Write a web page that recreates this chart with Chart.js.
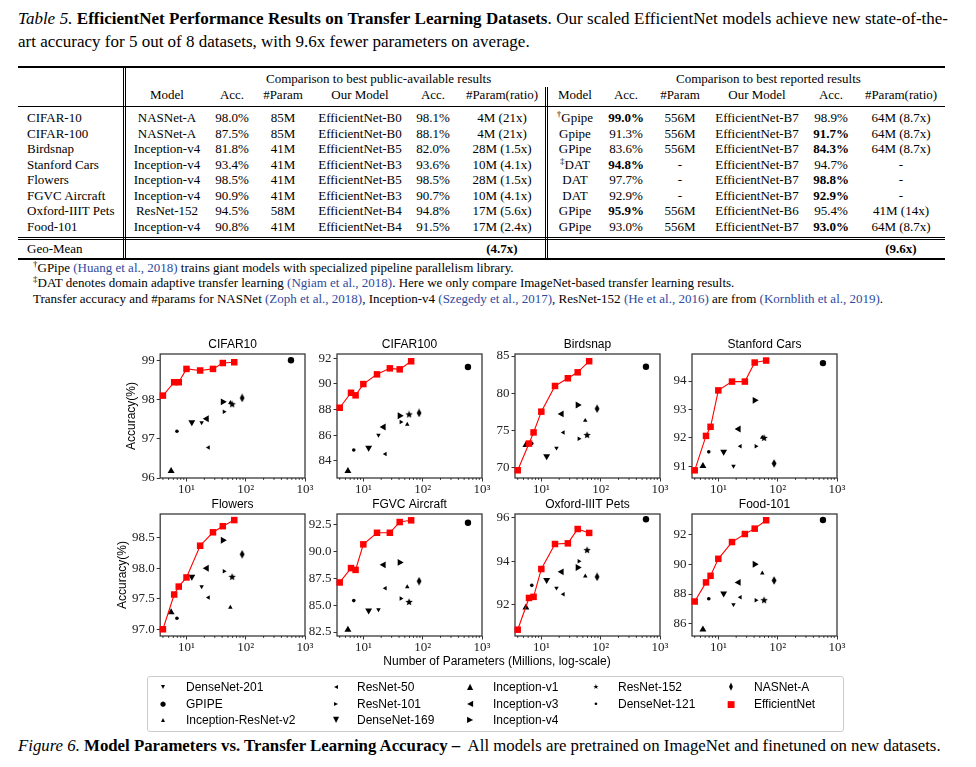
<!DOCTYPE html>
<html>
<head>
<meta charset="utf-8">
<script src="https://cdn.jsdelivr.net/npm/chart.js@4.4.0/dist/chart.umd.min.js"></script>
<style>
body{margin:0;background:#fff;}
#page{position:relative;width:976px;height:767px;overflow:hidden;font-family:"Liberation Serif",serif;color:#000;}
.abs{position:absolute;white-space:nowrap;}
.cap{font-size:17px;line-height:18px;}
.t{position:absolute;font-size:13px;line-height:16px;white-space:nowrap;}
.rule{position:absolute;left:18px;width:927px;background:#000;}
.vb{position:absolute;width:1px;background:#000;}
.fn{font-size:13px;line-height:15px;}
.cite{color:#2e4a9e;}
.sup{font-size:9px;position:relative;top:-5px;}
canvas{position:absolute;}
.sans{font-family:"Liberation Sans",sans-serif;font-size:12px;}
#legend{position:absolute;left:147px;top:676px;width:695px;height:54px;border:1px solid #ccc;border-radius:3px;}
.lm{position:absolute;font-family:"DejaVu Sans",sans-serif;line-height:12px;width:14px;text-align:center;}
</style>
</head>
<body>
<div id="page">
  <div class="abs cap" style="left:18px;top:10px;width:930px;text-align:justify;text-align-last:justify;"><i>Table 5.</i>&nbsp;<b>EfficientNet Performance Results on Transfer Learning Datasets</b>. Our scaled EfficientNet models achieve new state-of-the-</div>
  <div class="abs cap" style="left:18px;top:33px;">art accuracy for 5 out of 8 datasets, with 9.6x fewer parameters on average.</div>

  <div id="table"></div>

  <div class="abs fn" style="left:33px;top:260px;"><span class="sup">†</span>GPipe <span class="cite">(Huang et al., 2018)</span> trains giant models with specialized pipeline parallelism library.</div>
  <div class="abs fn" style="left:33px;top:275px;"><span class="sup">‡</span>DAT denotes domain adaptive transfer learning <span class="cite">(Ngiam et al., 2018)</span>. Here we only compare ImageNet-based transfer learning results.</div>
  <div class="abs fn" style="left:33px;top:291px;">Transfer accuracy and #params for NASNet <span class="cite">(Zoph et al., 2018)</span>, Inception-v4 <span class="cite">(Szegedy et al., 2017)</span>, ResNet-152 <span class="cite">(He et al., 2016)</span> are from <span class="cite">(Kornblith et al., 2019)</span>.</div>

  <div id="charts"></div>
  <div class="abs sans" style="left:297px;top:654px;width:400px;text-align:center;">Number of Parameters (Millions, log-scale)</div>
  <div id="legend"></div>

  <div class="abs cap" style="left:18px;top:737px;font-size:16.8px;"><i>Figure 6.</i> <b>Model Parameters vs. Transfer Learning Accuracy –</b>&nbsp; All models are pretrained on ImageNet and finetuned on new datasets.</div>
</div>

<script>
// ---------- data ----------
var panelNames = ['CIFAR10', 'CIFAR100', 'Birdsnap', 'Stanford Cars', 'Flowers', 'FGVC Aircraft', 'Oxford-IIIT Pets', 'Food-101'];

var modelNames = ['DenseNet-201', 'GPIPE', 'Inception-ResNet-v2', 'ResNet-50', 'ResNet-101', 'DenseNet-169',
                  'Inception-v1', 'Inception-v3', 'Inception-v4', 'ResNet-152', 'DenseNet-121', 'NASNet-A'];
var modelParams = [18, 580, 55, 23.5, 43, 12.3, 5.5, 22, 41, 59, 6.9, 87];
var effNetParams = [4, 6.2, 7.4, 10, 17, 28, 41, 64];

// accuracy of the baseline models, same order as modelNames (null = not plotted)
var accCifar10  = [97.41, 99.0, 97.92, 96.78, 97.69, 97.42, 96.18, 97.51, 97.94, 97.88, 97.19, 98.04];
var accCifar100 = [86.0, 91.32, 86.84, 84.52, 87.02, 85.02, 83.2, 86.63, 87.52, 87.62, 84.84, 87.73];
var accBirdsnap = [72.6, 83.56, 76.3, 74.7, 73.85, 71.5, 73.0, 77.2, 78.4, 74.35, 73.2, 77.9];
var accCars     = [91.01, 94.63, 92.02, 91.71, 91.71, 91.51, 91.01, 92.31, 93.32, 92.0, 91.51, 91.1];
var accFlowers  = [97.70, null, 97.36, 97.52, 97.95, 97.86, 97.28, 98.0, 98.46, 97.86, 97.18, 98.23];
var accAircraft = [84.59, 92.69, 86.7, 86.58, 85.62, 84.5, 82.72, 88.76, 88.99, 85.3, 85.43, 87.24];
var accPets     = [92.78, 95.94, 93.32, 92.49, 94.01, 93.14, 91.88, 93.52, 93.72, 94.52, 92.9, 93.29];
var accFood     = [87.3, 92.96, 89.4, 87.79, 87.59, 88.04, 85.62, 88.78, 89.99, 87.59, 87.68, 88.91];

// EfficientNet B0..B7
var effCifar10  = [98.10, 98.44, 98.44, 98.78, 98.74, 98.78, 98.93, 98.95];
var effCifar100 = [88.14, 89.31, 89.11, 89.99, 90.75, 91.22, 91.14, 91.77];
var effBirdsnap = [69.6, 73.2, 74.7, 77.5, 80.96, 82.0, 82.8, 84.3];
var effCars     = [90.86, 92.07, 92.39, 93.67, 93.98, 93.98, 94.65, 94.72];
var effFlowers  = [97.0, 97.57, 97.70, 97.85, 98.37, 98.59, 98.69, 98.79];
var effAircraft = [87.12, 88.46, 88.29, 90.67, 91.75, 91.75, 92.75, 92.91];
var effPets     = [90.86, 92.32, 92.37, 93.65, 94.8, 94.83, 95.49, 95.31];
var effFood     = [87.5, 88.78, 89.22, 90.36, 91.48, 92.02, 92.38, 92.94];

var yMin = [96.0, 82.65, 68.56, 90.59, 96.89, 82.13, 90.57, 85.19];
var yMax = [99.16, 92.34, 85.27, 94.95, 98.89, 93.5, 96.18, 93.36];
var yTicks = [[96, 97, 98, 99], [84, 86, 88, 90, 92], [70, 75, 80, 85], [91, 92, 93, 94],
              [97.0, 97.5, 98.0, 98.5], [82.5, 85.0, 87.5, 90.0, 92.5], [92, 94, 96], [86, 88, 90, 92]];
var yTickLabels = [['96', '97', '98', '99'], ['84', '86', '88', '90', '92'], ['70', '75', '80', '85'], ['91', '92', '93', '94'],
                   ['97.0', '97.5', '98.0', '98.5'], ['82.5', '85.0', '87.5', '90.0', '92.5'], ['92', '94', '96'], ['86', '88', '90', '92']];

var xTickValues = [10, 100, 1000];
var xTickLabels = ['10\u00b9', '10\u00b2', '10\u00b3'];
var xMinorTicks = [4, 5, 6, 7, 8, 9, 20, 30, 40, 50, 60, 70, 80, 90, 200, 300, 400, 500, 600, 700, 800, 900];

var accAll = [accCifar10, accCifar100, accBirdsnap, accCars, accFlowers, accAircraft, accPets, accFood];
var effAll = [effCifar10, effCifar100, effBirdsnap, effCars, effFlowers, effAircraft, effPets, effFood];

// ---------- table ----------
var tableCols = [167, 232, 283, 360, 433, 502, 575, 626, 680, 757, 831, 901];
var tableHead = ['Model', 'Acc.', '#Param', 'Our Model', 'Acc.', '#Param(ratio)', 'Model', 'Acc.', '#Param', 'Our Model', 'Acc.', '#Param(ratio)'];
var tableRows = [
	['CIFAR-10', 'NASNet-A', '98.0%', '85M', 'EfficientNet-B0', '98.1%', '4M (21x)', '<span class="sup">†</span>Gpipe', '<b>99.0%</b>', '556M', 'EfficientNet-B7', '98.9%', '64M (8.7x)'],
	['CIFAR-100', 'NASNet-A', '87.5%', '85M', 'EfficientNet-B0', '88.1%', '4M (21x)', 'Gpipe', '91.3%', '556M', 'EfficientNet-B7', '<b>91.7%</b>', '64M (8.7x)'],
	['Birdsnap', 'Inception-v4', '81.8%', '41M', 'EfficientNet-B5', '82.0%', '28M (1.5x)', 'GPipe', '83.6%', '556M', 'EfficientNet-B7', '<b>84.3%</b>', '64M (8.7x)'],
	['Stanford Cars', 'Inception-v4', '93.4%', '41M', 'EfficientNet-B3', '93.6%', '10M (4.1x)', '<span class="sup">‡</span>DAT', '<b>94.8%</b>', '-', 'EfficientNet-B7', '94.7%', '-'],
	['Flowers', 'Inception-v4', '98.5%', '41M', 'EfficientNet-B5', '98.5%', '28M (1.5x)', 'DAT', '97.7%', '-', 'EfficientNet-B7', '<b>98.8%</b>', '-'],
	['FGVC Aircraft', 'Inception-v4', '90.9%', '41M', 'EfficientNet-B3', '90.7%', '10M (4.1x)', 'DAT', '92.9%', '-', 'EfficientNet-B7', '<b>92.9%</b>', '-'],
	['Oxford-IIIT Pets', 'ResNet-152', '94.5%', '58M', 'EfficientNet-B4', '94.8%', '17M (5.6x)', 'GPipe', '<b>95.9%</b>', '556M', 'EfficientNet-B6', '95.4%', '41M (14x)'],
	['Food-101', 'Inception-v4', '90.8%', '41M', 'EfficientNet-B4', '91.5%', '17M (2.4x)', 'GPipe', '93.0%', '556M', 'EfficientNet-B7', '<b>93.0%</b>', '64M (8.7x)']
];
var geoRow = ['Geo-Mean', '', '', '', '', '', '<b>(4.7x)</b>', '', '', '', '', '', '<b>(9.6x)</b>'];

var tbl = document.getElementById('table');
function cell(html, cx, cy, left) {
	var d = document.createElement('div');
	d.className = 't';
	d.innerHTML = html;
	d.style.top = (cy - 8) + 'px';
	if (left) { d.style.left = cx + 'px'; }
	else { d.style.left = (cx - 70) + 'px'; d.style.width = '140px'; d.style.textAlign = 'center'; }
	tbl.appendChild(d);
}
function line(cls, l, t, w, h) {
	var d = document.createElement('div');
	d.className = cls;
	if (l != null) d.style.left = l + 'px';
	d.style.top = t + 'px';
	if (w != null) d.style.width = w + 'px';
	d.style.height = h + 'px';
	tbl.appendChild(d);
}
cell('Comparison to best public-available results', 336, 79);
cell('Comparison to best reported results', 746, 79);
for (var c = 0; c < tableHead.length; c++) cell(tableHead[c], tableCols[c], 95);
for (var r = 0; r < tableRows.length; r++) {
	var cy = 118 + r * 15.5;
	cell(tableRows[r][0], 27, cy, true);
	for (var c = 1; c < tableRows[r].length; c++) cell(tableRows[r][c], tableCols[c - 1], cy);
}
cell(geoRow[0], 27, 249, true);
for (var c = 1; c < geoRow.length; c++) if (geoRow[c]) cell(geoRow[c], tableCols[c - 1], 249);
line('rule', null, 66, null, 1.6);
line('rule', null, 105.5, null, 0.9);
line('rule', null, 236.5, null, 0.8);
line('rule', null, 239, null, 0.8);
line('rule', null, 258, null, 1.6);
line('vb', 122.5, 68, null, 190);
line('vb', 125, 68, null, 190);
line('vb', 544.5, 87, null, 171);
line('vb', 547, 87, null, 171);

// ---------- markers ----------
function makeStar() {
	var c = document.createElement('canvas');
	c.width = 8; c.height = 8;
	var g = c.getContext('2d');
	g.fillStyle = '#000';
	g.beginPath();
	for (var i = 0; i < 10; i++) {
		var a = -Math.PI / 2 + i * Math.PI / 5;
		var rr = i % 2 ? 1.7 : 3.9;
		g.lineTo(4 + rr * Math.cos(a), 4.2 + rr * Math.sin(a));
	}
	g.closePath();
	g.fill();
	return c;
}
function makeThinDiamond() {
	var c = document.createElement('canvas');
	c.width = 6; c.height = 9;
	var g = c.getContext('2d');
	g.fillStyle = '#000';
	g.beginPath();
	g.moveTo(3, 0.3); g.lineTo(5.4, 4.5); g.lineTo(3, 8.7); g.lineTo(0.6, 4.5);
	g.closePath();
	g.fill();
	return c;
}
var markers = [
	{ s: 'triangle', r: 2.6, rot: 180 },
	{ s: 'circle', r: 3.2, rot: 0 },
	{ s: 'triangle', r: 2.6, rot: 0 },
	{ s: 'triangle', r: 2.6, rot: 270 },
	{ s: 'triangle', r: 2.6, rot: 90 },
	{ s: 'triangle', r: 4, rot: 180 },
	{ s: 'triangle', r: 4, rot: 0 },
	{ s: 'triangle', r: 4, rot: 270 },
	{ s: 'triangle', r: 4, rot: 90 },
	{ s: makeStar(), r: 4, rot: 0 },
	{ s: 'circle', r: 1.8, rot: 0 },
	{ s: makeThinDiamond(), r: 4, rot: 0 }
];

// ---------- charts ----------
Chart.defaults.font.family = '"Liberation Serif", serif';
Chart.defaults.color = '#000';

var boxPlugin = {
	id: 'box',
	beforeDatasetsDraw: function(chart) {
		var ctx = chart.ctx, a = chart.chartArea, xs = chart.scales.x;
		ctx.save();
		ctx.strokeStyle = '#3a3a3a';
		ctx.lineWidth = 1.3;
		ctx.strokeRect(a.left, a.top, a.right - a.left, a.bottom - a.top);
		ctx.beginPath();
		ctx.lineWidth = 0.7;
		ctx.strokeStyle = '#000';
		xMinorTicks.forEach(function(v) {
			if (v > xs.min && v < xs.max) {
				var px = xs.getPixelForValue(v);
				ctx.moveTo(px, a.bottom);
				ctx.lineTo(px, a.bottom + 2);
			}
		});
		ctx.stroke();
		ctx.restore();
	}
};

var colLeft = [160, 337, 515, 692];
var rowTop = [354, 514];
var rowH = [124, 122];
var plotW = 145, TH = 21, XH = 22, RP = 14;

var holder = document.getElementById('charts');
panelNames.forEach(function(name, i) {
	var row = i < 4 ? 0 : 1, col = i % 4;
	var YW = i === 0 ? 36.2 : (i === 4 ? 45.2 : 36);
	var cv = document.createElement('canvas');
	var w = plotW + YW + RP, h = rowH[row] + TH + XH;
	cv.width = w; cv.height = h;
	cv.style.left = (colLeft[col] - YW) + 'px';
	cv.style.top = (rowTop[row] - TH) + 'px';
	holder.appendChild(cv);

	var acc = accAll[i], eff = effAll[i];
	var datasets = [{
		data: effNetParams.map(function(x, k) { return { x: x, y: eff[k] }; }),
		showLine: true,
		borderColor: '#ff0000',
		backgroundColor: '#ff0000',
		borderWidth: 1.1,
		pointStyle: 'rect',
		pointRadius: 4.6,
		pointBorderWidth: 0,
		clip: false
	}];
	modelNames.forEach(function(m, k) {
		if (acc[k] == null) return;
		datasets.push({
			data: [{ x: modelParams[k], y: acc[k] }],
			pointStyle: markers[k].s,
			pointRadius: markers[k].r,
			pointRotation: markers[k].rot,
			backgroundColor: '#000',
			borderColor: '#000',
			pointBorderWidth: 0,
			clip: false
		});
	});

	new Chart(cv, {
		type: 'scatter',
		data: { datasets: datasets },
		options: {
			responsive: false,
			animation: false,
			events: [],
			layout: { padding: { top: TH - 16.4, right: RP, bottom: 0, left: 0 } },
			plugins: {
				legend: { display: false },
				tooltip: { enabled: false },
				title: {
					display: true, text: name, fullSize: false, color: '#000',
					font: { family: '"Liberation Sans", sans-serif', size: 12, weight: 'normal' },
					padding: { top: 0, bottom: 2 }
				}
			},
			scales: {
				x: {
					type: 'logarithmic', min: 3.6, max: 1000,
					afterBuildTicks: function(s) { s.ticks = xTickValues.map(function(v) { return { value: v }; }); },
					afterFit: function(s) { s.height = XH; },
					ticks: {
						autoSkip: false, maxRotation: 0, minRotation: 0, padding: 0, color: '#222',
						font: { size: 13 },
						callback: function(v, k) { return xTickLabels[k]; }
					},
					grid: { drawOnChartArea: false, drawTicks: true, tickLength: 3.5, color: '#000', lineWidth: 0.8 },
					border: { display: false }
				},
				y: {
					min: yMin[i], max: yMax[i],
					afterBuildTicks: function(s) { s.ticks = yTicks[i].map(function(v) { return { value: v }; }); },
					afterFit: function(s) { s.width = YW; },
					ticks: {
						padding: 2, color: '#222', font: { size: 13 },
						callback: function(v, k) { return yTickLabels[i][k]; }
					},
					title: {
						display: col === 0, text: 'Accuracy(%)', color: '#000', padding: 0,
						font: { family: '"Liberation Sans", sans-serif', size: 12 }
					},
					grid: { drawOnChartArea: false, drawTicks: true, tickLength: 3.5, color: '#000', lineWidth: 0.8 },
					border: { display: false }
				}
			}
		},
		plugins: [boxPlugin]
	});
});

// ---------- legend ----------
var legendItems = [
	['▾', 8, '#000', 'DenseNet-201'], ['●', 7, '#000', 'GPIPE'], ['▴', 8, '#000', 'Inception-ResNet-v2'],
	['◂', 8, '#000', 'ResNet-50'], ['▸', 8, '#000', 'ResNet-101'], ['▼', 8, '#000', 'DenseNet-169'],
	['▲', 8, '#000', 'Inception-v1'], ['◀', 8, '#000', 'Inception-v3'], ['▶', 8, '#000', 'Inception-v4'],
	['★', 7, '#000', 'ResNet-152'], ['•', 9, '#000', 'DenseNet-121'],
	['⧫', 8, '#000', 'NASNet-A'], ['■', 9, '#ff0000', 'EfficientNet']
];
var legMarkX = [163, 336, 470, 596, 731];
var legTextX = [186, 357, 493, 618, 754];
var legRowY = [687, 704, 720];
var page = document.getElementById('page');
var colRows = [3, 3, 3, 2, 2];
var idx = 0;
for (var c = 0; c < 5; c++) {
	for (var r = 0; r < colRows[c]; r++) {
		var it = legendItems[idx++];
		var m = document.createElement('div');
		m.className = 'lm';
		m.textContent = it[0];
		m.style.fontSize = it[1] + 'px';
		m.style.color = it[2];
		m.style.left = (legMarkX[c] - 7) + 'px';
		m.style.top = (legRowY[r] - 6) + 'px';
		page.appendChild(m);
		var t = document.createElement('div');
		t.className = 'abs sans';
		t.textContent = it[3];
		t.style.left = legTextX[c] + 'px';
		t.style.top = (legRowY[r] - 7) + 'px';
		t.style.lineHeight = '14px';
		page.appendChild(t);
	}
}
</script>
</body>
</html>
